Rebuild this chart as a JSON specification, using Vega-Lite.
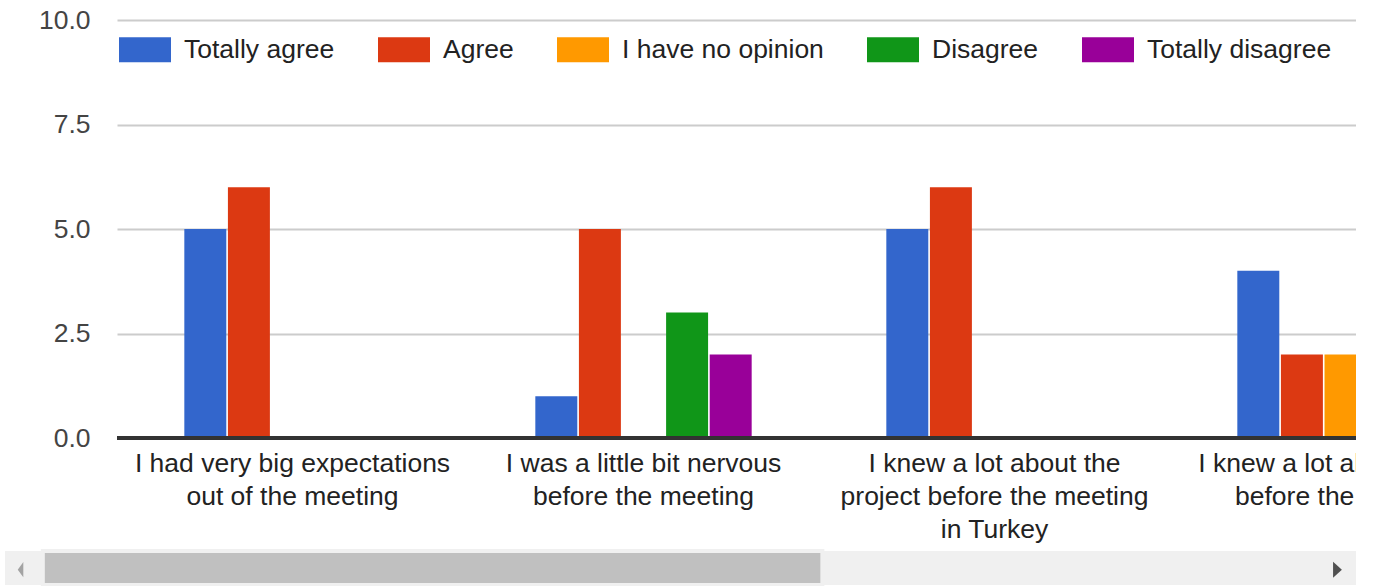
{
  "$schema": "https://vega.github.io/schema/vega-lite/v6.json",
  "autosize": {"type": "none"},
  "width": 1239,
  "height": 418,
  "padding": {"left": 117, "top": 20, "right": 0, "bottom": 148},
  "background": "white",
  "config": {"font": "Liberation Sans", "view": {"stroke": null}},
  "datasets": {
    "answers": [
      {"question": "I had very big expectations\nout of the meeting", "response": "Totally agree", "count": 5},
      {"question": "I had very big expectations\nout of the meeting", "response": "Agree", "count": 6},
      {"question": "I had very big expectations\nout of the meeting", "response": "I have no opinion", "count": 0},
      {"question": "I had very big expectations\nout of the meeting", "response": "Disagree", "count": 0},
      {"question": "I had very big expectations\nout of the meeting", "response": "Totally disagree", "count": 0},
      {"question": "I was a little bit nervous\nbefore the meeting", "response": "Totally agree", "count": 1},
      {"question": "I was a little bit nervous\nbefore the meeting", "response": "Agree", "count": 5},
      {"question": "I was a little bit nervous\nbefore the meeting", "response": "I have no opinion", "count": 0},
      {"question": "I was a little bit nervous\nbefore the meeting", "response": "Disagree", "count": 3},
      {"question": "I was a little bit nervous\nbefore the meeting", "response": "Totally disagree", "count": 2},
      {"question": "I knew a lot about the\nproject before the meeting\nin Turkey", "response": "Totally agree", "count": 5},
      {"question": "I knew a lot about the\nproject before the meeting\nin Turkey", "response": "Agree", "count": 6},
      {"question": "I knew a lot about the\nproject before the meeting\nin Turkey", "response": "I have no opinion", "count": 0},
      {"question": "I knew a lot about the\nproject before the meeting\nin Turkey", "response": "Disagree", "count": 0},
      {"question": "I knew a lot about the\nproject before the meeting\nin Turkey", "response": "Totally disagree", "count": 0},
      {"question": "I knew a lot about Turkey\nbefore the meeting", "response": "Totally agree", "count": 4},
      {"question": "I knew a lot about Turkey\nbefore the meeting", "response": "Agree", "count": 2},
      {"question": "I knew a lot about Turkey\nbefore the meeting", "response": "I have no opinion", "count": 2},
      {"question": "I knew a lot about Turkey\nbefore the meeting", "response": "Disagree", "count": 2},
      {"question": "I knew a lot about Turkey\nbefore the meeting", "response": "Totally disagree", "count": 1}
    ],
    "scrollbar": [
      {"part": "track", "from": 0, "to": 1},
      {"part": "thumb", "from": 0.028, "to": 0.605},
      {"part": "back", "at": 0.0115},
      {"part": "forward", "at": 0.9863}
    ]
  },
  "layer": [
    {
      "data": {"name": "answers"},
      "layer": [
        {
          "mark": {"type": "bar", "clip": true},
          "encoding": {
            "x": {
              "field": "question",
              "type": "nominal",
              "sort": null,
              "scale": {"range": [0, 1404], "paddingInner": 0.379, "paddingOuter": 0.1895},
              "axis": {
                "title": null,
                "domain": false,
                "ticks": false,
                "labelAngle": 0,
                "labelExpr": "split(datum.value, '\\n')",
                "labelFontSize": 26.5,
                "labelColor": "#222222",
                "labelPadding": 12,
                "labelLineHeight": 33,
                "labelLimit": 0,
                "labelOverlap": false,
                "labelBound": false
              }
            },
            "xOffset": {
              "field": "response",
              "type": "nominal",
              "sort": ["Totally agree", "Agree", "I have no opinion", "Disagree", "Totally disagree"],
              "scale": {"paddingInner": 0.037, "paddingOuter": 0.0185}
            },
            "y": {
              "field": "count",
              "type": "quantitative",
              "scale": {"domain": [0, 10], "nice": false},
              "axis": {
                "title": null,
                "values": [0, 2.5, 5, 7.5, 10],
                "format": ".1f",
                "domain": false,
                "ticks": false,
                "gridColor": "#cccccc",
                "gridWidth": 2,
                "labelFontSize": 26.5,
                "labelColor": "#444444",
                "labelPadding": 27
              }
            },
            "color": {
              "field": "response",
              "type": "nominal",
              "scale": {
                "domain": ["Totally agree", "Agree", "I have no opinion", "Disagree", "Totally disagree"],
                "range": ["#3366cc", "#dc3912", "#ff9900", "#109618", "#990099"]
              },
              "legend": {
                "title": null,
                "orient": "none",
                "legendX": 2,
                "legendY": 3.5,
                "direction": "horizontal",
                "columns": 5,
                "symbolType": "M-1,-0.48L1,-0.48L1,0.48L-1,0.48Z",
                "symbolSize": 2704,
                "symbolStrokeWidth": 0,
                "symbolOpacity": 1,
                "labelFontSize": 26.5,
                "labelColor": "#222222",
                "labelOffset": 13,
                "labelLimit": 0,
                "columnPadding": 43,
                "padding": 0
              }
            }
          }
        },
        {
          "mark": {"type": "rule", "color": "#333333", "strokeWidth": 3},
          "encoding": {"y": {"datum": 0}}
        }
      ]
    },
    {
      "data": {"name": "scrollbar"},
      "layer": [
        {
          "transform": [{"filter": "datum.part == 'track'"}],
          "mark": {"type": "rect"},
          "encoding": {
            "x": {"field": "from", "type": "quantitative", "scale": {"domain": [0, 1], "range": [-112, 1239]}, "axis": null},
            "x2": {"field": "to"},
            "y": {"datum": 0, "type": "quantitative", "scale": {"domain": [0, 1], "range": [565, 531]}, "axis": null},
            "y2": {"datum": 1},
            "fill": {"field": "part", "type": "nominal", "scale": {"domain": ["track", "thumb", "back", "forward"], "range": ["#f0f0f0", "#c0c0c0", "#a3a3a3", "#505050"]}, "legend": null}
          }
        },
        {
          "transform": [{"filter": "datum.part == 'thumb'"}],
          "mark": {"type": "rect", "stroke": "#f0f0f0", "strokeWidth": 4},
          "encoding": {
            "x": {"field": "from", "type": "quantitative", "scale": {"domain": [0, 1], "range": [-112, 1239]}, "axis": null},
            "x2": {"field": "to"},
            "y": {"datum": 0, "type": "quantitative", "scale": {"domain": [0, 1], "range": [565, 531]}, "axis": null},
            "y2": {"datum": 1},
            "fill": {"field": "part", "type": "nominal", "scale": {"domain": ["track", "thumb", "back", "forward"], "range": ["#f0f0f0", "#c0c0c0", "#a3a3a3", "#505050"]}, "legend": null}
          }
        },
        {
          "transform": [{"filter": "datum.part == 'back' || datum.part == 'forward'"}],
          "mark": {"type": "point", "filled": true, "opacity": 1, "size": 256},
          "encoding": {
            "x": {"field": "at", "type": "quantitative", "scale": {"domain": [0, 1], "range": [-112, 1239]}, "axis": null},
            "y": {"datum": 0.45, "type": "quantitative", "scale": {"domain": [0, 1], "range": [565, 531]}, "axis": null},
            "shape": {"field": "part", "type": "nominal", "scale": {"domain": ["back", "forward"], "range": ["M0.35,-0.95L-0.35,0L0.35,0.95Z", "M-0.55,-1L0.55,0L-0.55,1Z"]}, "legend": null},
            "fill": {"field": "part", "type": "nominal", "scale": {"domain": ["track", "thumb", "back", "forward"], "range": ["#f0f0f0", "#c0c0c0", "#a3a3a3", "#505050"]}, "legend": null}
          }
        }
      ]
    }
  ],
  "resolve": {"scale": {"x": "independent", "y": "independent"}}
}
